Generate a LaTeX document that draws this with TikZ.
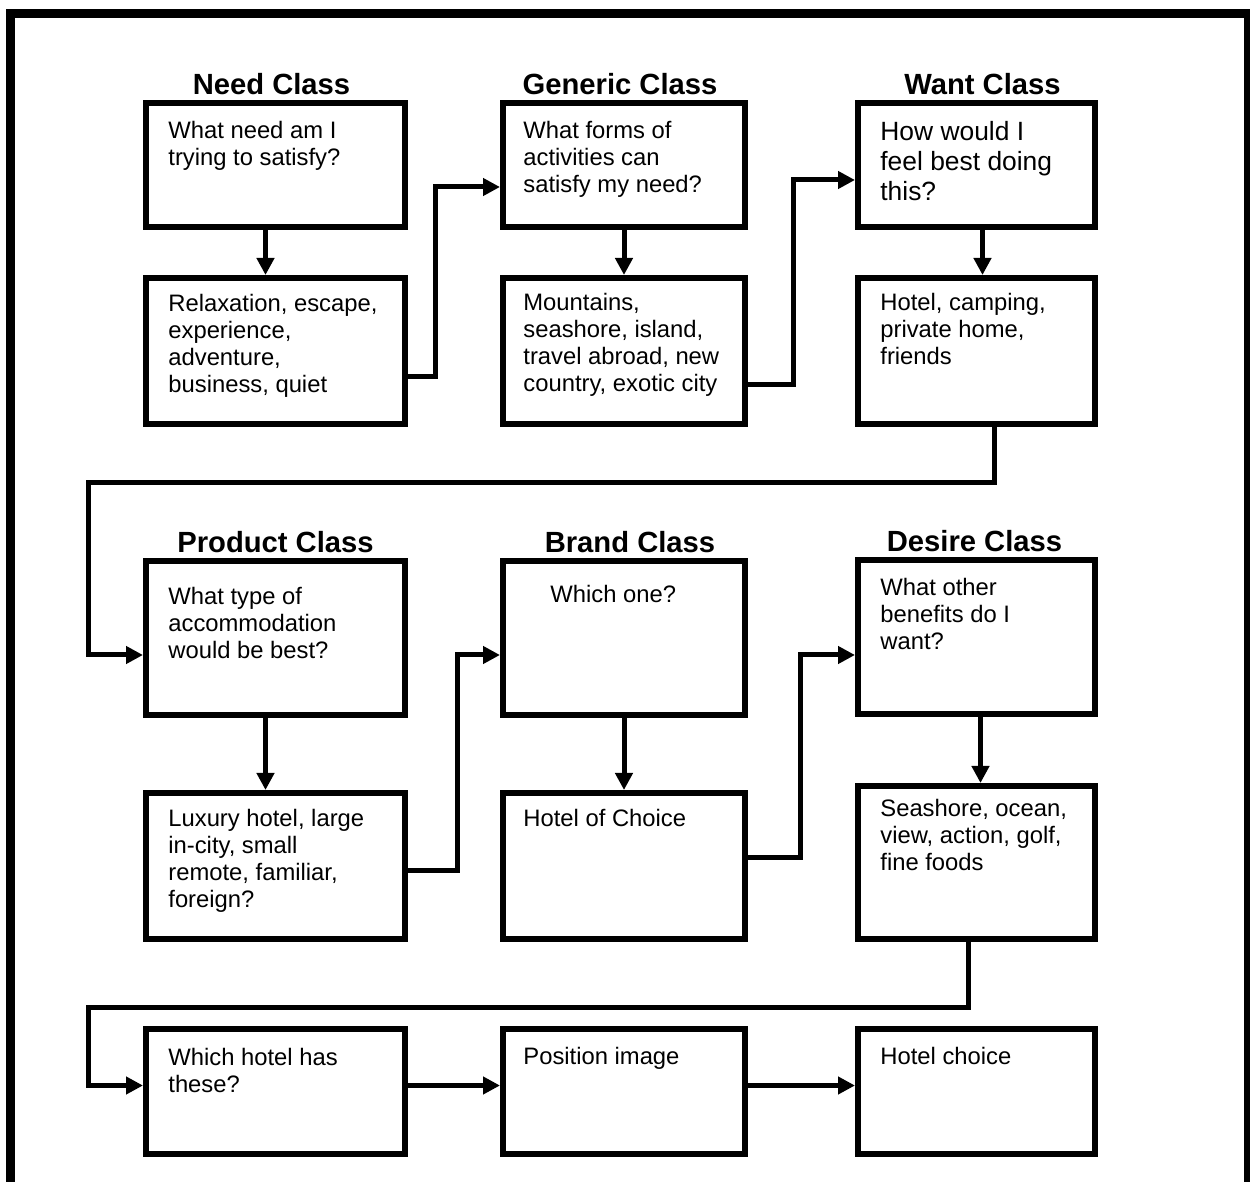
\documentclass[tikz,border=0pt]{standalone}
\usepackage{fontspec}
\setmainfont{Liberation Sans}
\usetikzlibrary{arrows.meta}

\begin{document}
\begin{tikzpicture}[
  x=0.5pt,
  y=-0.5pt,
  frame/.style={draw=black,line width=4.5pt},
  box/.style={draw=black,line width=3pt,rectangle,inner sep=0pt},
  colA/.style={box,minimum width=129.5pt},
  colB/.style={box,minimum width=121pt},
  colC/.style={box,minimum width=118.5pt},
  ttl/.style={font=\bfseries\fontsize{14.6}{16}\selectfont,anchor=base},
  txt/.style={font=\fontsize{11.9}{13.5}\selectfont,align=left,anchor=north west,inner sep=0pt},
  link/.style={line width=2.5pt,-{Triangle[length=8.5pt,width=8.5pt]}}
]
\useasboundingbox (0,0) rectangle (1250,1182);
\draw[frame] (10.5,1182) -- (10.5,13.5) -- (1248,13.5) -- (1248,1182);

\node[colA,minimum height=62pt] (need) at (275.5,165) {};
\node[colA,minimum height=73pt] (needlist) at (275.5,351) {};
\node[colB,minimum height=62pt] (generic) at (624,165) {};
\node[colB,minimum height=73pt] (genericlist) at (624,351) {};
\node[colC,minimum height=62pt] (want) at (976.5,165) {};
\node[colC,minimum height=73pt] (wantlist) at (976.5,351) {};
\node[colA,minimum height=77pt] (product) at (275.5,638) {};
\node[colA,minimum height=73pt] (productlist) at (275.5,866) {};
\node[colB,minimum height=77pt] (brand) at (624,638) {};
\node[colB,minimum height=73pt] (brandlist) at (624,866) {};
\node[colC,minimum height=77pt] (desire) at (976.5,637) {};
\node[colC,minimum height=76.5pt] (desirelist) at (976.5,862.5) {};
\node[colA,minimum height=62.5pt] (which) at (275.5,1091.5) {};
\node[colB,minimum height=62.5pt] (position) at (624,1091.5) {};
\node[colC,minimum height=62.5pt] (choice) at (976.5,1091.5) {};

\node[ttl] (needtitle) at ([xshift=-2pt,yshift=2.5pt]need.north) {Need Class};
\node[ttl] (generictitle) at ([xshift=-2pt,yshift=2.5pt]generic.north) {Generic Class};
\node[ttl] (wanttitle) at ([xshift=3pt,yshift=2.5pt]want.north) {Want Class};
\node[ttl] (producttitle) at ([yshift=2.5pt]product.north) {Product Class};
\node[ttl] (brandtitle) at ([xshift=3pt,yshift=2.5pt]brand.north) {Brand Class};
\node[ttl] (desiretitle) at ([xshift=-1pt,yshift=2.5pt]desire.north) {Desire Class};

\node[txt] (needtext) at ([shift={(25,21)}]need.north west) {What need am I\\trying to satisfy?};
\node[txt] (needlisttext) at ([shift={(25,19)}]needlist.north west) {Relaxation, escape,\\experience,\\adventure,\\business, quiet};
\node[txt] (generictext) at ([shift={(23,21)}]generic.north west) {What forms of\\activities can\\satisfy my need?};
\node[txt] (genericlisttext) at ([shift={(23,18)}]genericlist.north west) {Mountains,\\seashore, island,\\travel abroad, new\\country, exotic city};
\node[txt,font=\fontsize{13.2}{15}\selectfont] (wanttext) at ([shift={(25,21)}]want.north west) {How would I\\feel best doing\\this?};
\node[txt] (wantlisttext) at ([shift={(25,18)}]wantlist.north west) {Hotel, camping,\\private home,\\friends};
\node[txt] (producttext) at ([shift={(25,29)}]product.north west) {What type of\\accommodation\\would be best?};
\node[txt] (brandtext) at ([shift={(50,27)}]brand.north west) {Which one?};
\node[txt] (desiretext) at ([shift={(25,21)}]desire.north west) {What other\\benefits do I\\want?};
\node[txt] (productlisttext) at ([shift={(25,19)}]productlist.north west) {Luxury hotel, large\\in-city, small\\remote, familiar,\\foreign?};
\node[txt] (brandlisttext) at ([shift={(23,19)}]brandlist.north west) {Hotel of Choice};
\node[txt] (desirelisttext) at ([shift={(25,16)}]desirelist.north west) {Seashore, ocean,\\view, action, golf,\\fine foods};
\node[txt] (whichtext) at ([shift={(25,22)}]which.north west) {Which hotel has\\these?};
\node[txt] (positiontext) at ([shift={(23,21)}]position.north west) {Position image};
\node[txt] (choicetext) at ([shift={(25,21)}]choice.north west) {Hotel choice};

\coordinate (bendA) at (88,483);
\coordinate (bendB) at (88,1007);

\draw[link] ([xshift=-5pt]need.south) -- ([xshift=-5pt]needlist.north);
\draw[link] ([yshift=-13pt]needlist.east) -- ++(27,0) |- ([yshift=-11pt]generic.west);
\draw[link] (generic.south) -- (genericlist.north);
\draw[link] ([yshift=-17pt]genericlist.east) -- ++(45,0) |- ([yshift=-7.5pt]want.west);
\draw[link] ([xshift=3pt]want.south) -- ([xshift=3pt]wantlist.north);
\draw[link] ([xshift=9pt]wantlist.south) |- (bendA) |- ([yshift=-8.5pt]product.west);
\draw[link] ([xshift=-5pt]product.south) -- ([xshift=-5pt]productlist.north);
\draw[link] ([yshift=-2pt]productlist.east) -- ++(49,0) |- ([yshift=-8.5pt]brand.west);
\draw[link] (brand.south) -- (brandlist.north);
\draw[link] ([yshift=4.5pt]brandlist.east) -- ++(52,0) |- ([yshift=-9pt]desire.west);
\draw[link] ([xshift=2pt]desire.south) -- ([xshift=2pt]desirelist.north);
\draw[link] ([xshift=-4pt]desirelist.south) |- (bendB) |- ([yshift=3pt]which.west);
\draw[link] ([yshift=3pt]which.east) -- ([yshift=3pt]position.west);
\draw[link] ([yshift=3pt]position.east) -- ([yshift=3pt]choice.west);
\end{tikzpicture}
\end{document}
